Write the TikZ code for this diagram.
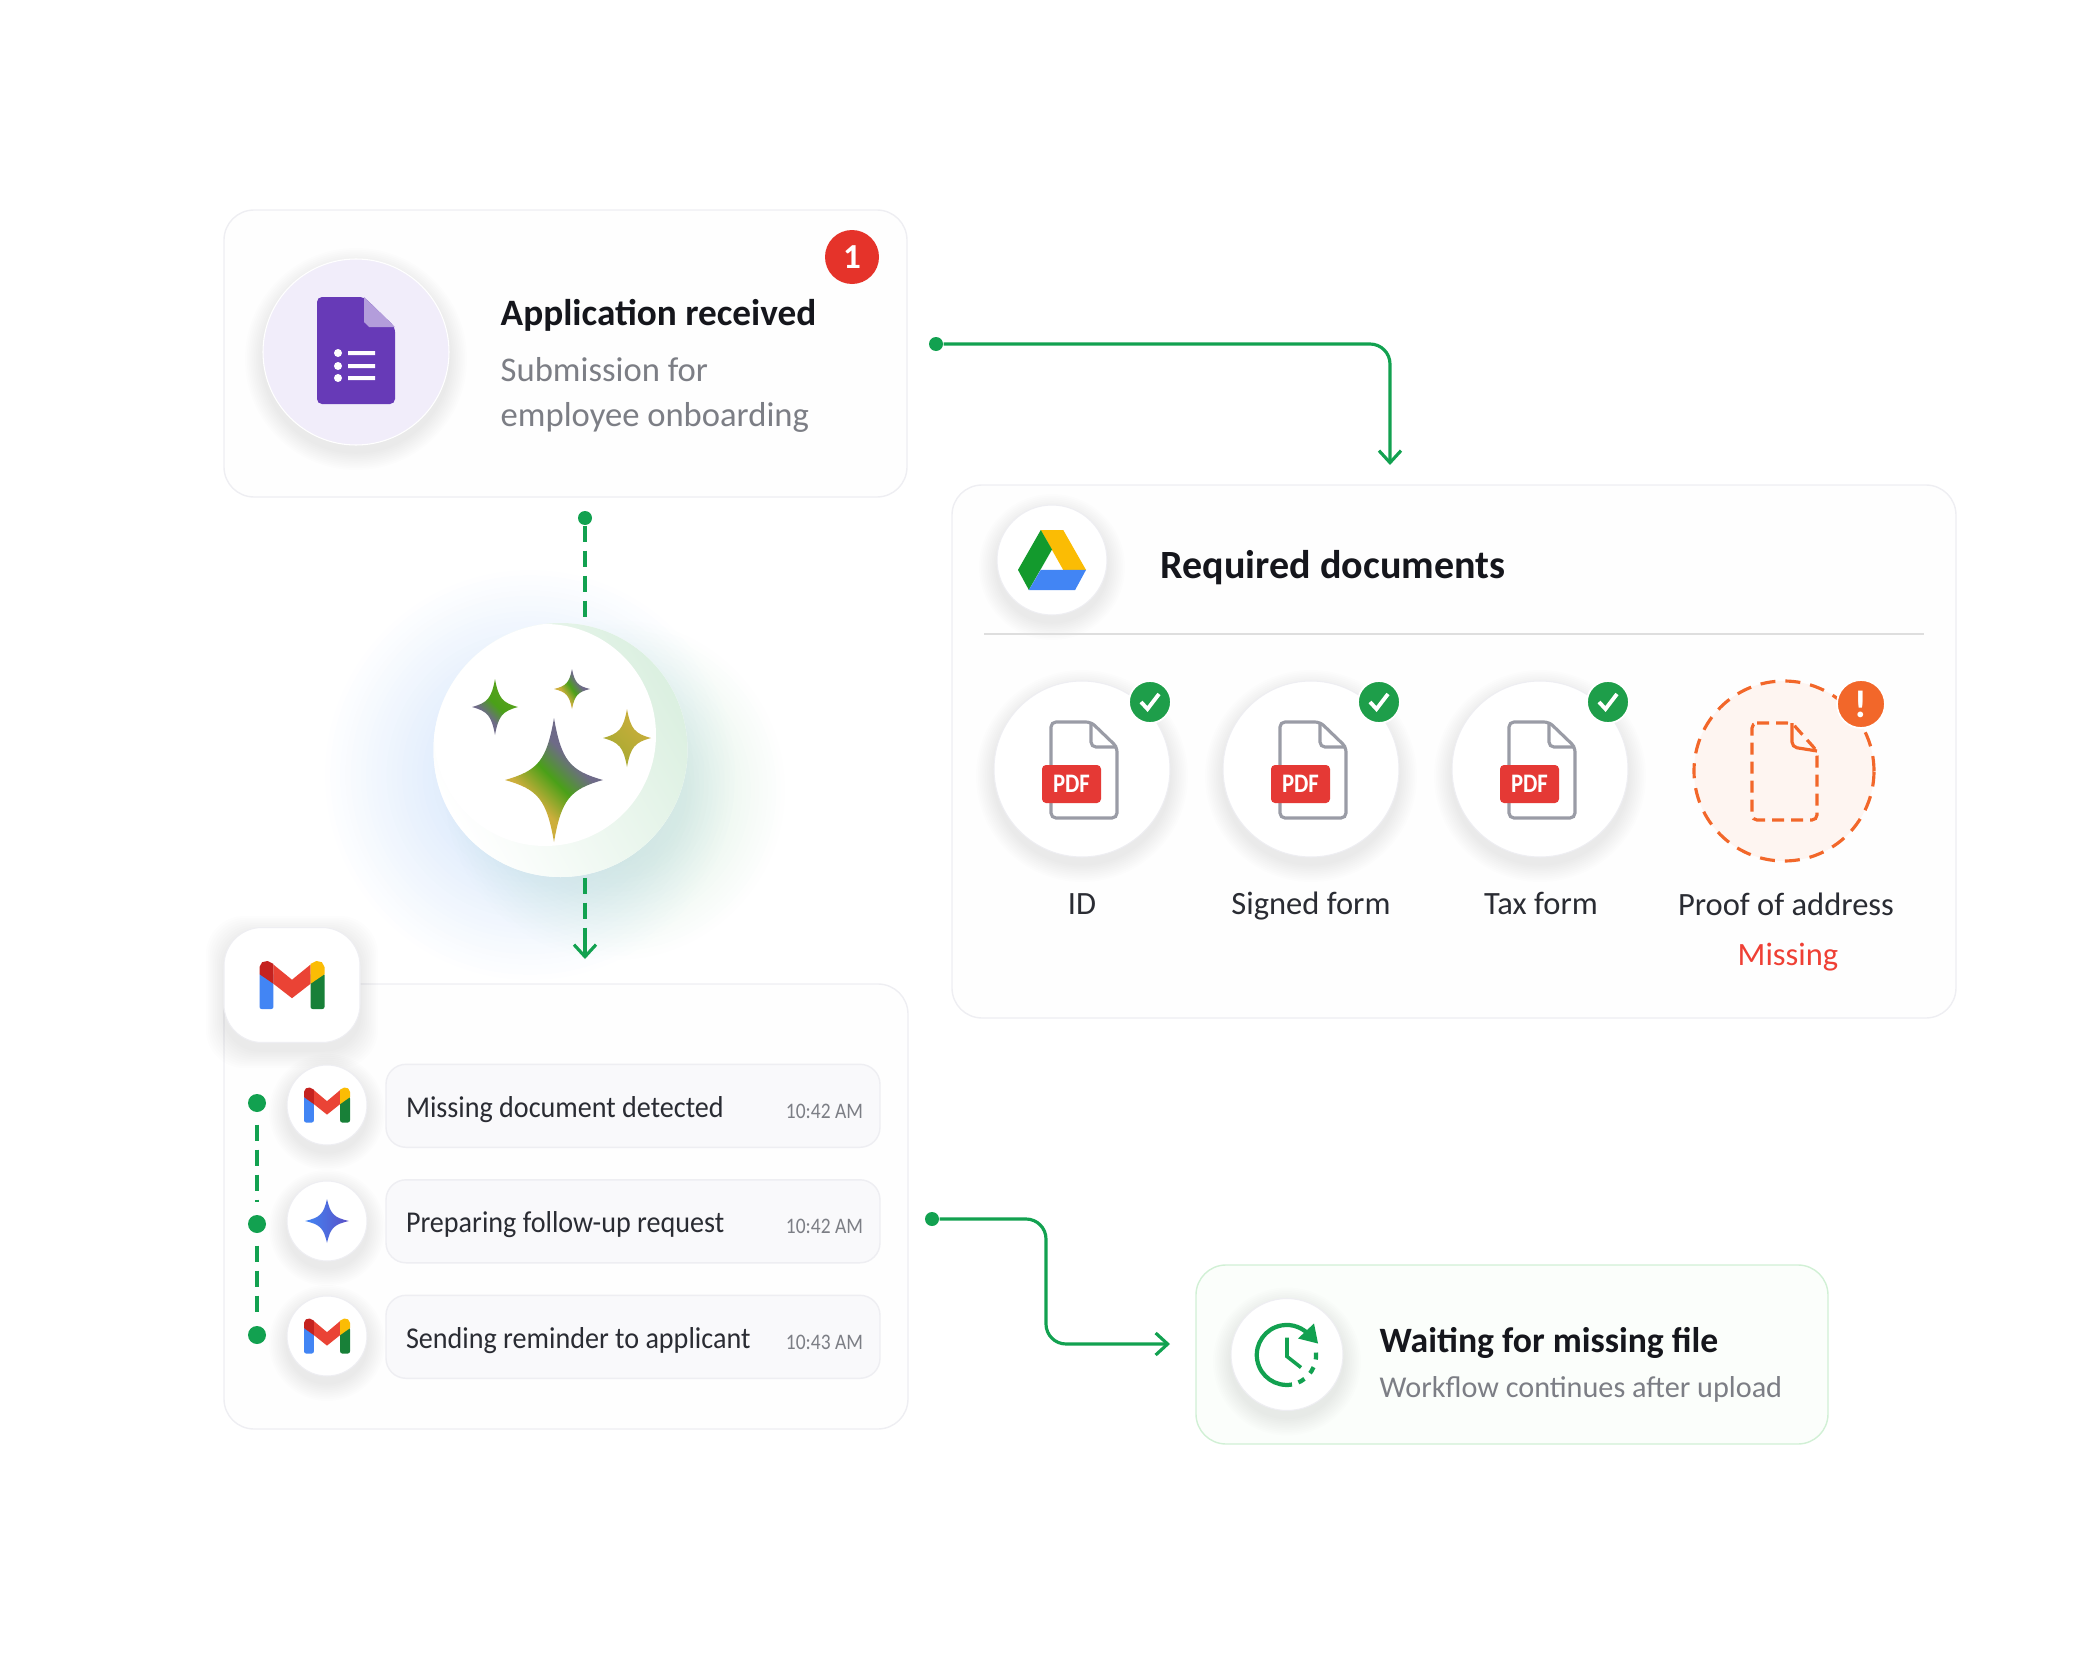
\documentclass[tikz,border=0pt]{standalone}
\usepackage{fontspec}
\setmainfont{Carlito}
\newfontfamily\rowfont[FakeStretch=0.93]{Carlito}
\newfontfamily\timefont[FakeStretch=0.88]{Carlito}
\newfontfamily\tagfont[FakeStretch=0.85]{Carlito}
\usetikzlibrary{calc, arrows.meta}
\definecolor{flowgreen}{HTML}{12A150}
\definecolor{okgreen}{HTML}{1E9E4A}
\definecolor{cardline}{HTML}{EEEEF2}
\definecolor{cardfill}{HTML}{FEFEFE}
\definecolor{pillfill}{HTML}{F9F9FB}
\definecolor{titleink}{HTML}{15161C}
\definecolor{subink}{HTML}{7C7E85}
\definecolor{bodyink}{HTML}{2A2C33}
\definecolor{formpurple}{HTML}{673AB7}
\definecolor{formfold}{HTML}{B39DDB}
\definecolor{formtint}{HTML}{F1EDFA}
\definecolor{docgrey}{HTML}{9A9CA6}
\definecolor{pdfred}{HTML}{E53935}
\definecolor{warnorange}{HTML}{F2672A}
\definecolor{warntint}{HTML}{FEF5F1}
\definecolor{missred}{HTML}{EF4035}
\definecolor{badgered}{HTML}{E5332A}
\definecolor{starslate}{HTML}{6E6A88}
\definecolor{stargreen}{HTML}{4AA018}
\definecolor{stargold}{HTML}{CDAE3C}
\definecolor{gblue}{HTML}{4285F4}
\definecolor{ggreen}{HTML}{188038}
\definecolor{gred}{HTML}{EA4335}
\definecolor{gdarkred}{HTML}{C5221F}
\definecolor{gyellow}{HTML}{FBBC04}
\definecolor{glowblue}{HTML}{5B9BF0}
\definecolor{glowgreen}{HTML}{6ABF80}
\pgfdeclarehorizontalshading{sparkgold}{100bp}{color(0bp)=(stargold); color(37bp)=(stargold); color(50bp)=(stargreen); color(62bp)=(starslate); color(100bp)=(starslate)}
\pgfdeclarehorizontalshading{sparkslate}{100bp}{color(0bp)=(starslate); color(38bp)=(starslate); color(52bp)=(stargreen); color(100bp)=(stargreen!70!stargold)}
\tikzstyle{card} = [rectangle, rounded corners=0.3cm, draw=cardline, fill=cardfill, line width=0.4pt]
\tikzstyle{pill} = [rectangle, rounded corners=0.2cm, minimum width=4.94cm, minimum height=0.83cm, draw=cardline, fill=pillfill, line width=0.4pt]
\tikzstyle{disc} = [circle, inner sep=0pt, fill=white, draw=cardline, line width=0.3pt]
\tikzstyle{title} = [anchor=west, inner sep=0pt, text=titleink, font=\fontsize{10.6}{12}\bfseries\selectfont]
\tikzstyle{sub} = [anchor=west, inner sep=0pt, text=subink, font=\fontsize{9.85}{12}\selectfont]
\tikzstyle{rowtext} = [anchor=base west, inner sep=0pt, text=bodyink, font=\fontsize{8.6}{10}\rowfont]
\tikzstyle{rowtime} = [anchor=east, inner sep=0pt, text=subink, font=\fontsize{6.3}{8}\timefont]
\tikzstyle{doclabel} = [anchor=base, inner sep=0pt, text=bodyink, font=\fontsize{9.25}{11}\selectfont]
\tikzstyle{okbadge} = [circle, minimum size=0.42cm, inner sep=0pt, fill=okgreen, draw=white, line width=0.5pt]
\tikzstyle{pdftag} = [rectangle, rounded corners=0.04cm, minimum width=0.59cm, minimum height=0.38cm, inner sep=0pt, fill=pdfred, text=white, font=\fontsize{7.6}{8}\bfseries\tagfont]
\tikzstyle{flowdot} = [circle, minimum size=0.14cm, inner sep=0pt, fill=flowgreen]
\tikzstyle{flowline} = [draw=flowgreen, line width=0.9pt, rounded corners=0.2cm]
\tikzstyle{flowtip} = [-{Straight Barb[length=1.2mm, width=2.2mm]}]
\tikzstyle{flowdash} = [draw=flowgreen, line width=0.9pt, dash pattern=on 1.6mm off 0.9mm]
\newcommand{\liftdisc}[4]{
    \coordinate (#1) at (#2);
    \foreach \i in {1,...,10} {
        \fill[black, opacity=0.008] ($(#1)+(0,-0.07)$) circle ({#3/2+0.018*\i});
    }
    \node (#1) [disc, minimum size=#3cm, #4] at (#1) {};
}
\newcommand{\softglow}[3]{
    \foreach \i in {1,...,24} {
        \fill[#3, opacity=0.0065] (#1) circle ({#2*(0.4+0.6*\i/24)});
    }
}
\newcommand{\sparkle}[4]{
    \begin{scope}[shift={(#1)}, xscale=#2, yscale=#3]
        \shade[#4] (0,1) .. controls (.15,.32) and (.32,.15) .. (1,0) .. controls (.32,-.15) and (.15,-.32) .. (0,-1) .. controls (-.15,-.32) and (-.32,-.15) .. (-1,0) .. controls (-.32,.15) and (-.15,.32) .. (0,1) -- cycle;
    \end{scope}
}
\newcommand{\gmailmark}[3]{
    \begin{scope}[shift={(#1)}, xscale=#2, yscale=#3]
        \fill[gblue, rounded corners=0.6pt] (-1,-1) rectangle (-.57,.5);
        \fill[ggreen, rounded corners=0.6pt] (.57,-1) rectangle (1,.5);
        \fill[gred] (-.57,.85) -- (0,.22) -- (.57,.85) -- (.57,.05) -- (0,-.55) -- (-.57,.05) -- cycle;
        \fill[gdarkred] (-1,.45) -- (-.57,.05) -- (-.57,.88) -- (-.75,1) -- (-.92,.95) -- (-1,.75) -- cycle;
        \fill[gyellow] (1,.45) -- (.57,.05) -- (.57,.88) -- (.75,1) -- (.92,.95) -- (1,.75) -- cycle;
    \end{scope}
}
\newcommand{\pdfsheet}[1]{
    \begin{scope}[shift={(#1)}]
        \draw[draw=docgrey, fill=white, line width=0.9pt, rounded corners=0.05cm] (-.31,.47) -- (.09,.47) -- (.35,.22) -- (.35,-.49) -- (-.31,-.49) -- cycle;
        \draw[draw=docgrey, line width=0.9pt, rounded corners=0.05cm] (.09,.47) -- (.09,.22) -- (.35,.22);
    \end{scope}
}
\newcommand{\tick}[1]{
    \draw[white, line width=1.1pt] ($(#1)+(-.09,0)$) -- ($(#1)+(-.025,-.07)$) -- ($(#1)+(.09,.08)$);
}

\begin{document}
\begin{tikzpicture}
    \useasboundingbox (0,0) rectangle (21,-16.8);

    % Cards
    \node (formcard) [card, minimum width=6.83cm, minimum height=2.87cm] at (5.655,-3.535) {};
    \node (docscard) [card, minimum width=10.04cm, minimum height=5.33cm] at (14.54,-7.515) {};
    \node (mailcard) [card, minimum width=6.84cm, minimum height=4.45cm] at (5.66,-12.065) {};
    \node (waitcard) [card, draw=green!12!cardline, fill=green!1!cardfill, minimum width=6.32cm, minimum height=1.79cm] at (15.12,-13.545) {};

    % Form card
    \liftdisc{formdisc}{$(formcard)+(-2.095,0.015)$}{1.86}{fill=formtint, draw=white}
    \begin{scope}[shift={(formdisc)}]
        \fill[formpurple, rounded corners=0.05cm] (-.39,.55) -- (.08,.55) -- (.39,.25) -- (.39,-.52) -- (-.39,-.52) -- cycle;
        \fill[formfold] (.08,.55) -- (.39,.25) -- (.13,.25) -- (.08,.3) -- cycle;
        \fill[white!90!formtint] (-.18,-.01) circle (.04) (-.18,-.14) circle (.04) (-.18,-.26) circle (.04);
        \fill[white!90!formtint] (-.08,.01) rectangle (.19,-.03) (-.08,-.12) rectangle (.19,-.16) (-.08,-.24) rectangle (.19,-.28);
    \end{scope}
    \node (formbadge) [circle, minimum size=0.54cm, inner sep=0pt, fill=badgered, text=white, font=\fontsize{10}{11}\bfseries\selectfont] at ($(formcard)+(2.865,0.965)$) {1};
    \node (formtitle) [title] at ($(formcard)+(-0.655,0.385)$) {Application received};
    \node (formsub1) [sub] at ($(formcard)+(-0.655,-0.165)$) {Submission for};
    \node (formsub2) [sub] at ($(formcard)+(-0.655,-0.64)$) {employee onboarding};

    % Docs card
    \liftdisc{drivedisc}{$(docscard)+(-4.02,1.915)$}{1.1}{}
    \begin{scope}[shift={(drivedisc)}, xscale=.34, yscale=.3]
        \fill[gyellow] (-.33,1) -- (.33,1) -- (1,-.33) -- (.33,-.33) -- cycle;
        \fill[ggreen!80!green] (-.33,1) -- (0,.35) -- (-.68,-1) -- (-1,-.33) -- cycle;
        \fill[gblue] (-.33,-.33) -- (1,-.33) -- (.68,-1) -- (-.68,-1) -- cycle;
    \end{scope}
    \node (docstitle) [title, font=\fontsize{11.4}{13}\bfseries\selectfont] at ($(docscard)+(-2.94,1.84)$) {Required documents};
    \draw[draw=black!13, line width=0.7pt] (9.84,-6.34) -- (19.24,-6.34);

    \liftdisc{iddisc}{$(docscard)+(-3.72,-0.175)$}{1.76}{}
    \liftdisc{signdisc}{$(iddisc)+(2.29,0)$}{1.76}{}
    \liftdisc{taxdisc}{$(signdisc)+(2.29,0)$}{1.76}{}
    \node (proofdisc) [circle, inner sep=0pt, minimum size=1.8cm, fill=warntint, draw=warnorange, line width=0.9pt, dash pattern=on 1.5mm off 1mm] at ($(taxdisc)+(2.44,-0.02)$) {};

    \pdfsheet{iddisc}
    \pdfsheet{signdisc}
    \pdfsheet{taxdisc}
    \node (idtag) [pdftag] at ($(iddisc)+(-0.105,-0.15)$) {PDF};
    \node (signtag) [pdftag] at ($(signdisc)+(-0.105,-0.15)$) {PDF};
    \node (taxtag) [pdftag] at ($(taxdisc)+(-0.105,-0.15)$) {PDF};
    \begin{scope}[shift={(proofdisc)}]
        \draw[draw=warnorange, line width=0.9pt, rounded corners=0.05cm, dash pattern=on 1.2mm off 0.7mm] (-.32,.48) -- (.08,.48) -- (.33,.2) -- (.33,-.49) -- (-.32,-.49) -- cycle;
        \draw[draw=warnorange, line width=0.9pt, rounded corners=0.05cm] (.08,.48) -- (.08,.24) -- (.33,.2);
    \end{scope}

    \node (idok) [okbadge] at ($(iddisc)+(0.68,0.67)$) {};
    \node (signok) [okbadge] at ($(signdisc)+(0.68,0.67)$) {};
    \node (taxok) [okbadge] at ($(taxdisc)+(0.68,0.67)$) {};
    \tick{idok}
    \tick{signok}
    \tick{taxok}
    \node (proofwarn) [circle, minimum size=0.48cm, inner sep=0pt, fill=warnorange, draw=white, line width=0.5pt, text=white, font=\fontsize{11}{12}\bfseries\selectfont] at ($(proofdisc)+(0.77,0.67)$) {!};

    \node (idlabel) [doclabel] at ($(iddisc)+(0,-1.45)$) {ID};
    \node (signlabel) [doclabel] at ($(signdisc)+(0,-1.45)$) {Signed form};
    \node (taxlabel) [doclabel] at ($(taxdisc)+(0.01,-1.45)$) {Tax form};
    \node (prooflabel) [doclabel] at ($(proofdisc)+(0.02,-1.44)$) {Proof of address};
    \node (missinglabel) [doclabel, text=missred] at ($(proofdisc)+(0.04,-1.94)$) {Missing};

    % Assistant orb
    \softglow{5.3,-7.75}{2.05}{glowblue}
    \softglow{6.15,-7.9}{1.7}{glowgreen}
    \node (orb) [circle, inner sep=0pt, minimum size=2.54cm, fill=white] at (5.605,-7.5) {};
    \begin{scope}
        \clip (orb) circle (1.27);
        \shade[left color=white, right color=glowgreen!24!white, shading angle=120] (orb) circle (1.27);
        \fill[white] (5.45,-7.35) circle (1.11);
    \end{scope}
    \sparkle{5.54,-7.8}{.49}{.62}{shading=sparkgold, shading angle=45}
    \sparkle{4.95,-7.07}{.23}{.28}{shading=sparkslate, shading angle=45}
    \sparkle{5.72,-6.89}{.18}{.2}{shading=sparkgold, shading angle=35}
    \sparkle{6.27,-7.38}{.24}{.29}{left color=stargold!70!stargreen, right color=stargold, shading angle=135}

    % Mail card
    \foreach \i in {1,...,10} {
        \fill[black, rounded corners=0.38cm, opacity=0.008] (2.24-0.018*\i,-9.34+0.018*\i) rectangle (3.6+0.018*\i,-10.5-0.018*\i);
    }
    \node (mailtile) [rectangle, rounded corners=0.38cm, inner sep=0pt, minimum width=1.36cm, minimum height=1.15cm, fill=white, draw=cardline, line width=0.3pt] at (2.92,-9.85) {};
    \gmailmark{mailtile}{.325}{.24}

    \node (rowone) [pill] at (6.33,-11.058) {};
    \node (rowtwo) [pill] at ($(rowone)+(0,-1.155)$) {};
    \node (rowthree) [pill] at ($(rowtwo)+(0,-1.155)$) {};
    \liftdisc{discone}{3.27,-11.05}{0.8}{}
    \liftdisc{disctwo}{$(discone)+(0,-1.16)$}{0.8}{}
    \liftdisc{discthree}{$(disctwo)+(0,-1.15)$}{0.8}{}
    \gmailmark{discone}{.23}{.175}
    \sparkle{disctwo}{.22}{.22}{left color=gblue, right color=violet!40!gblue, shading angle=90}
    \gmailmark{discthree}{.23}{.175}

    \node (textone) [rowtext] at ($(rowone.west)+(0.2,-0.115)$) {Missing document detected};
    \node (texttwo) [rowtext] at ($(rowtwo.west)+(0.2,-0.115)$) {Preparing follow-up request};
    \node (textthree) [rowtext] at ($(rowthree.west)+(0.2,-0.115)$) {Sending reminder to applicant};
    \node (timeone) [rowtime] at ($(rowone.east)+(-0.17,-0.055)$) {10:42 AM};
    \node (timetwo) [rowtime] at ($(rowtwo.east)+(-0.17,-0.055)$) {10:42 AM};
    \node (timethree) [rowtime] at ($(rowthree.east)+(-0.17,-0.055)$) {10:43 AM};

    \node (trackone) [flowdot, minimum size=0.18cm] at (2.57,-11.03) {};
    \node (tracktwo) [flowdot, minimum size=0.18cm] at (2.57,-12.24) {};
    \node (trackthree) [flowdot, minimum size=0.18cm] at (2.57,-13.35) {};
    \draw [flowdash, shorten <=0.12cm, shorten >=0.12cm] (trackone) -- (tracktwo);
    \draw [flowdash, shorten <=0.12cm, shorten >=0.12cm] (tracktwo) -- (trackthree);

    % Waiting card
    \liftdisc{clockdisc}{$(waitcard)+(-2.25,0)$}{1.12}{}
    \begin{scope}[shift={(clockdisc)}, flowgreen, line width=1.2pt]
        \draw (.05,-.3) arc[start angle=-80, end angle=-322, radius=.3];
        \fill (.31,.11) -- (.11,.16) -- (.27,.31) -- cycle;
        \draw[dash pattern=on 0.7mm off 0.8mm] (.29,.02) arc[start angle=5, end angle=-70, radius=.3];
        \draw[line width=1pt] (0,.17) -- (0,-.02) -- (.14,-.13);
    \end{scope}
    \node (waittitle) [title, font=\fontsize{10.15}{12}\bfseries\selectfont] at ($(waitcard)+(-1.33,0.12)$) {Waiting for missing file};
    \node (waitsub) [sub, font=\fontsize{8.6}{10}\selectfont] at ($(waitcard)+(-1.33,-0.35)$) {Workflow continues after upload};

    % Connectors
    \node (formdot) [flowdot] at (9.36,-3.44) {};
    \coordinate (docsin) at (13.9,-4.65);
    \draw [flowline, flowtip] (formdot) -| (docsin);

    \node (orbdot) [flowdot] at (5.85,-5.18) {};
    \coordinate (mailin) at (5.85,-9.59);
    \draw [flowdash] (orbdot) -- (orbdot |- orb.north);
    \draw [flowdash] (orb.south -| mailin) -- ($(mailin)+(0,0.3)$);
    \draw [flowline, flowtip] ($(mailin)+(0,0.3)$) -- (mailin);

    \node (maildot) [flowdot] at (9.32,-12.19) {};
    \coordinate (waitin) at (11.7,-13.44);
    \draw [flowline, flowtip] (maildot) -| (10.46,-13) |- (waitin);
\end{tikzpicture}
\end{document}
